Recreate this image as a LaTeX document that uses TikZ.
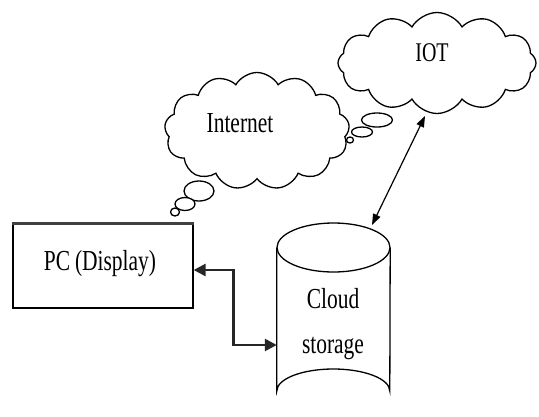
\documentclass[tikz,border=0pt]{standalone}
\usepackage{fontspec}
\setmainfont{Liberation Serif}[FakeStretch=0.74]
\usetikzlibrary{shapes.symbols,shapes.geometric,arrows.meta,calc}
\begin{document}
\begin{tikzpicture}[x=1pt,y=-1pt,
  lbl/.style={font=\fontsize{29}{31}\selectfont, inner sep=0pt, text=black},
  ln/.style={line width=1.3pt},
  cloudbox/.style={cloud, cloud puffs=13, cloud puff arc=120, cloud ignores aspect, draw, ln, fill=white, inner sep=0pt},
  bubble/.style={ellipse, draw, ln, fill=white, inner sep=0pt},
  bigtip/.style={{Triangle[length=12pt,width=12pt]}-{Triangle[length=12pt,width=12pt]}, line width=2.6pt, draw=black!85},
  smalltip/.style={{Triangle[length=11pt,width=8pt]}-{Triangle[length=11pt,width=8pt]}, line width=1.2pt}
]
\useasboundingbox (0,0) rectangle (539,416);

% Internet cloud and its bubbles
\node[cloudbox, minimum width=185pt, minimum height=117pt] (inet) at (257,131) {};
\node[lbl] (inettxt) at (240,123) {Internet};
\node[bubble, minimum width=30pt, minimum height=20pt] (ib1) at (199,191) {};
\node[bubble, minimum width=20pt, minimum height=13pt] (ib2) at (185,204) {};
\node[bubble, minimum width=9pt, minimum height=8pt] (ib3) at (175,212) {};

% IOT cloud and its bubbles
\node[cloudbox, cloud puffs=12, minimum width=198pt, minimum height=101pt] (iot) at (437,63) {};
\node[lbl, font=\fontsize{27}{29}\selectfont] (iottxt) at (432,53) {IOT};
\node[bubble, minimum width=31pt, minimum height=14pt] (ob1) at (377,120) {};
\node[bubble, minimum width=21pt, minimum height=10pt] (ob2) at (362,132) {};
\node[bubble, minimum width=7pt, minimum height=6pt] (ob3) at (350,140) {};

% PC box
\node[draw, ln, minimum width=180pt, minimum height=84pt, inner sep=0pt] (pc) at (103,266) {};
\draw[line width=3pt, black!75] (pc.north west) -- (pc.north east);
\node[lbl] (pctxt) at (100,264) {PC\,(Display)};

% Cylinder
\node[minimum width=113pt, minimum height=190pt, inner sep=0pt] (cyl) at (333.5,318) {};
\draw[ln] (333.5,247.5) ellipse [x radius=56.5pt, y radius=24.5pt];
\draw[ln] (cyl.west |- 0,247.5) -- (cyl.west |- 0,391) arc[start angle=180, end angle=0, x radius=56.5pt, y radius=22pt] -- (cyl.east |- 0,247.5);
\node[lbl] (cloudtxt) at (333,299) {Cloud};
\node[lbl] (stortxt) at (333,348) {storage};

% Connectors
\draw[bigtip] ($(pc.east)+(0,4)$) -- ++(40,0) |- ($(cyl.west)+(0,27)$);
\coordinate (iotbot) at (425,116);
\coordinate (cyltop) at (372,225);
\draw[smalltip] (iotbot) -- (cyltop);
\end{tikzpicture}
\end{document}
